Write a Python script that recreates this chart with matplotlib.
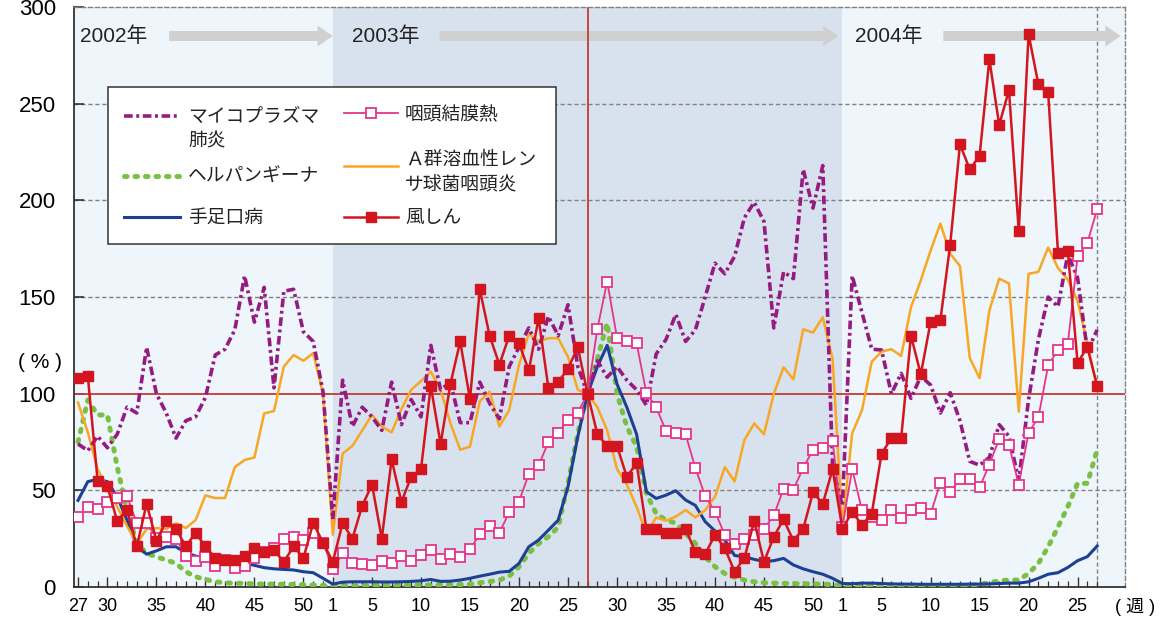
import matplotlib
matplotlib.use("Agg")
import matplotlib.pyplot as plt
from matplotlib.lines import Line2D
from matplotlib.patches import Rectangle

plt.rcParams['font.family'] = ['Liberation Sans', 'Noto Sans CJK JP']

# 2002年第27週 ～ 2004年第27週 (2003年第27週 = 100%)
WEEKS = list(range(27, 53)) + list(range(1, 53)) + list(range(1, 28))

mycoplasma = [
    74, 70.5, 78, 72, 79, 93, 90, 124, 100, 90, 77, 86, 88, 98, 120, 123, 133, 161, 137, 155, 103, 153, 154, 132, 127, 101,
    35, 107, 83, 93, 88, 81, 106, 84, 97, 88, 125, 102, 106, 85, 85, 106, 95, 87, 114, 124, 134, 123, 140, 130, 146, 114,
    100, 117, 108.5, 114, 107, 102, 94, 120.5, 128, 141, 127, 133, 150, 167.5, 162, 171, 191, 199, 189, 134, 163, 159.5, 216, 196, 218, 62,
    42, 161, 142, 123, 122.6, 100, 110.5, 97.6, 109, 104.5, 90, 100.5, 86, 65, 63, 67, 84, 78, 55, 97, 128, 150, 145, 172, 160, 122, 133,
]
herpangina = [
    75, 96.7, 89, 89, 62, 39.8, 22.5, 17.4, 15.6, 14, 12.2, 7.9, 5.3, 3.9, 2.7, 2.2, 1.9, 1.9, 1.6, 1.5, 1.5, 1.4, 1.3, 1.2, 1.0, 0.8,
    0.5, 0.6, 0.6, 0.7, 0.7, 0.8, 0.8, 0.9, 0.9, 1.0, 1.0, 1.1, 1.2, 1.3, 1.5, 2.2, 2.8, 3.6, 5.6, 10.5, 17.4, 22.5, 26, 31, 53.6, 79.5,
    100, 118, 136.5, 100, 83, 72.6, 48.4, 38, 34.6, 33, 27.7, 22.5, 15.6, 10.5, 7, 5, 3.6, 2.7, 2.2, 2.0, 1.9, 1.8, 1.7, 1.6, 1.5, 1.2,
    0.5, 0.4, 0.4, 0.4, 0.4, 0.3, 0.3, 0.3, 0.3, 0.3, 0.4, 0.4, 0.5, 0.6, 1.5, 2.2, 3.2, 3.6, 3.6, 7, 12.2, 20.8, 31, 41.5, 53.6, 53.6, 71,
]
hfmd = [
    44.8, 54.5, 55.7, 54.5, 46.7, 34.6, 20.8, 17, 18.7, 20.8, 20.8, 17.7, 16, 14.8, 13.9, 13, 12.5, 12.2, 11.2, 10, 9.4, 9.1, 8.8, 7.9, 7.4, 4.5,
    1.5, 2.5, 2.7, 2.7, 2.7, 2.6, 2.6, 2.7, 2.9, 3.2, 3.9, 2.9, 3.0, 3.6, 4.5, 5.6, 6.6, 7.7, 8.1, 12.2, 20.8, 24.3, 29.4, 34.6, 51.9, 77.8,
    100, 114, 125, 105, 93, 79, 49.3, 45.8, 47.5, 49.8, 45, 42.2, 33.8, 29, 24.3, 16.3, 15.6, 14.3, 13.2, 13.6, 14.8, 11.4, 9.4, 7.9, 6.6, 4.5,
    1.8, 1.7, 2.0, 2.0, 1.8, 1.6, 1.5, 1.5, 1.4, 1.4, 1.4, 1.4, 1.4, 1.5, 1.5, 1.6, 1.8, 2.0, 2.0, 2.7, 4.5, 6.6, 7.4, 10.1, 13.6, 15.7, 21.2,
]
pcf = [
    36, 41.5, 40.5, 44, 46, 47, 33, 33, 25.6, 26, 25, 16, 13.6, 15.6, 11, 14, 10, 11, 15, 18, 20, 25, 25.7, 24.3, 28, 23,
    9.4, 17.4, 12.5, 11.8, 11.2, 13.6, 12.2, 16, 13.2, 16.7, 19, 14.6, 17, 15.3, 19.4, 27.4, 31.8, 28, 38.7, 44.2, 58.4, 62.9, 75, 79.8, 86.4, 90.2,
    100, 133.6, 158, 129, 127.4, 126, 100.4, 92.9, 80.8, 79.8, 79, 61.5, 47, 39, 27, 22.2, 24.6, 27, 30, 37, 50.8, 50.4, 61.5, 71, 72, 75.7,
    31, 61, 39.8, 36, 34.6, 39.8, 35.6, 40, 40.8, 37.7, 54, 49, 56, 56, 51.5, 63.3, 76.7, 73.5, 53, 79.8, 87.7, 114.7, 122.6, 125.5, 171, 178, 195.5,
]
gas = [
    95.4, 80, 61, 51, 41.5, 31.5, 22.5, 30, 30.5, 30, 33, 30.5, 34.6, 47.4, 46, 46, 62, 65.7, 67, 89.8, 91, 114, 120, 117, 121, 100,
    27, 69, 73, 81, 89, 83, 80, 92, 102, 106.5, 111.4, 102, 84.7, 71, 72.6, 96, 101, 83, 91.5, 114.8, 131, 127, 128.7, 128.7, 119, 102,
    100, 93, 81, 61, 53, 41.5, 27.7, 36, 34.3, 36.4, 39.8, 36, 39.8, 46.7, 62, 54.6, 76, 84.6, 79, 100, 113.6, 107.4, 133.3, 131.6, 139.5, 118,
    31, 79.5, 91.4, 116.6, 121.7, 123, 119.5, 144.7, 158.6, 174, 188, 172.4, 166, 118.4, 108, 143, 159.5, 157, 90.7, 162, 163, 175.6, 165, 159, 148, 126, 103,
]
rubella = [
    108, 109, 55, 52, 34, 40, 21, 43, 24, 34, 30, 21, 28, 21, 15, 14, 14, 16, 20, 18, 19, 13, 21, 15, 33, 23,
    13, 33, 25, 42, 53, 25, 66, 44, 57, 61, 104, 74, 105, 127, 97, 154, 130, 115, 130, 126, 112, 139, 103, 106, 113, 124,
    100, 79, 73, 73, 57, 64, 30, 30, 28, 28, 30, 18, 17, 27, 20, 8, 15, 34, 13, 26, 35, 24, 30, 49, 43, 61,
    30, 39, 32, 38, 69, 77, 77, 130, 110, 137, 138, 177, 229, 216, 223, 273, 239, 257, 184, 286, 260, 256, 173, 174, 116, 124, 104,
]

YEARS = ["2002年", "2003年", "2004年"]

PURPLE = "#951B81"
GREEN = "#7AC143"
BLUE = "#1D3F94"
ORANGE = "#F8A623"
PINK = "#E4358A"
RED = "#D2151E"
REFRED = "#C23B33"
LIGHT_BG = "#EEF6FC"
DARK_BG = "#D8E2EE"
GRID = "#808080"

x = list(range(len(WEEKS)))
year_starts = [i for i, w in enumerate(WEEKS) if w == 1]          # 2003, 2004 week 1
base_idx = year_starts[0] + WEEKS[year_starts[0]:].index(27)       # 2003 week 27
last_idx = len(WEEKS) - 1
x_lo, x_hi = -0.41, 106.84

fig = plt.figure(figsize=(11.6, 6.2), dpi=100)
ax = fig.add_axes([74 / 1160, 33 / 620, 1051 / 1160, 580 / 620])
ax.set_xlim(x_lo, x_hi)
ax.set_ylim(0, 300)

# year shading
ax.axvspan(x_lo, year_starts[0], color=LIGHT_BG, lw=0, zorder=0)
ax.axvspan(year_starts[0], year_starts[1], color=DARK_BG, lw=0, zorder=0)
ax.axvspan(year_starts[1], x_hi, color=LIGHT_BG, lw=0, zorder=0)

for yv in (50, 150, 200, 250):
    ax.axhline(yv, color=GRID, lw=1, ls=(0, (3, 2)), zorder=1)
ax.axvline(last_idx, color=GRID, lw=1, ls=(0, (3, 2)), zorder=1)
ax.axhline(100, color=REFRED, lw=1.3, zorder=2)
ax.axvline(base_idx, color=REFRED, lw=1.3, zorder=2)

# year labels + arrows
year_text_x = [0.2, 28.0, 79.3]
arrow_spans = [(9.3, 26.0), (36.9, 77.6), (88.3, 106.4)]
for label, tx, (a0, a1) in zip(YEARS, year_text_x, arrow_spans):
    ax.text(tx, 285, label, fontsize=15, ha="left", va="center", color="#222222", zorder=2)
    ax.annotate("", xy=(a1, 285), xytext=(a0, 285),
                arrowprops=dict(arrowstyle="simple,head_length=1.1,head_width=1.5,tail_width=0.72",
                                color="#D0D0D0", lw=0, shrinkA=0, shrinkB=0),
                zorder=1.5)

# series
ax.plot(x, herpangina, color=GREEN, lw=3.6, ls=(0, (0.5, 1.6)),
        dash_capstyle="round", zorder=3)
ax.plot(x, hfmd, color=BLUE, lw=2.2, zorder=3.1)
ax.plot(x, gas, color=ORANGE, lw=1.8, zorder=3.2)
ax.plot(x, mycoplasma, color=PURPLE, lw=2.6, ls=(0, (2.4, 1.0, 0.8, 1.0)), zorder=3.3)
ax.plot(x, pcf, color=PINK, lw=1.3, marker="s", ms=7.5, mfc="white",
        mec=PINK, mew=1.3, zorder=3.4)
ax.plot(x, rubella, color=RED, lw=1.8, marker="s", ms=7.5, mfc=RED,
        mec=RED, zorder=3.5)

# axes styling
for side in ("top", "right"):
    ax.spines[side].set_linestyle((0, (3, 2)))
    ax.spines[side].set_color(GRID)
    ax.spines[side].set_linewidth(1)
for side in ("left", "bottom"):
    ax.spines[side].set_color("#333333")
    ax.spines[side].set_linewidth(1.3)

major_idx = [i for i, w in enumerate(WEEKS) if i == 0 or w == 1 or w % 5 == 0]
ax.set_xticks(major_idx)
ax.set_xticklabels([str(WEEKS[i]) for i in major_idx])
ax.set_xticks(x, minor=True)
ax.tick_params(axis="x", which="major", direction="in", length=7, width=1,
               color="#333333", labelsize=13, pad=8)
ax.tick_params(axis="x", which="minor", direction="in", length=4, width=0.9,
               color="#333333")
ax.set_yticks(range(0, 301, 50))
ax.tick_params(axis="y", direction="in", length=7, width=1.2, color="#333333",
               labelsize=16, pad=13)

fig.text(40 / 1160, 1 - 362 / 620, "( % )", fontsize=15, ha="center", va="center")
fig.text(1135 / 1160, 1 - 607 / 620, "( 週 )", fontsize=13, ha="center", va="center")


# legend drawn by hand
def ax_pt(px, py):
    return (px - 74) / 1051, (587 - py) / 580


bx0, by0 = ax_pt(108, 244)
bx1, by1 = ax_pt(556, 87)
ax.add_patch(Rectangle((bx0, by0), bx1 - bx0, by1 - by0, transform=ax.transAxes,
                       facecolor="white", edgecolor="#333333", lw=1.1, zorder=10))

legend_items = [
    # sample line (x0, x1, y) in pixels, style
    ((124, 180, 116), dict(color=PURPLE, lw=2.6, ls=(0, (2.4, 1.0, 0.8, 1.0)))),
    ((124, 180, 176), dict(color=GREEN, lw=3.6, ls=(0, (0.5, 1.6)), dash_capstyle="round")),
    ((124, 180, 217), dict(color=BLUE, lw=2.2)),
    ((344, 398, 113), dict(color=PINK, lw=1.3)),
    ((344, 398, 166), dict(color=ORANGE, lw=1.8)),
    ((344, 398, 217), dict(color=RED, lw=1.8)),
]
for (px0, px1, py), style in legend_items:
    (lx0, ly), (lx1, _) = ax_pt(px0, py), ax_pt(px1, py)
    ax.add_line(Line2D([lx0, lx1], [ly, ly], transform=ax.transAxes,
                       clip_on=False, zorder=11, **style))

mx, my = ax_pt(371, 113)
ax.add_line(Line2D([mx], [my], transform=ax.transAxes, marker="s", ms=7.5,
                   mfc="white", mec=PINK, mew=1.3, zorder=12, clip_on=False))
mx, my = ax_pt(371, 217)
ax.add_line(Line2D([mx], [my], transform=ax.transAxes, marker="s", ms=7.5,
                   mfc=RED, mec=RED, zorder=12, clip_on=False))

legend_texts = [
    (188, 116, "マイコプラズマ"),
    (188, 141, "肺炎"),
    (188, 176, "ヘルパンギーナ"),
    (188, 217, "手足口病"),
    (405, 115, "咽頭結膜熱"),
    (405, 159, "Ａ群溶血性レン"),
    (405, 184, "サ球菌咽頭炎"),
    (405, 217, "風しん"),
]
for px, py, s in legend_texts:
    tx, ty = ax_pt(px, py)
    ax.text(tx, ty, s, transform=ax.transAxes, fontsize=13.5, ha="left",
            va="center", color="#222222", zorder=12,
            family=["Noto Sans CJK JP", "DejaVu Sans"])

fig.savefig("out.png", dpi=100)
